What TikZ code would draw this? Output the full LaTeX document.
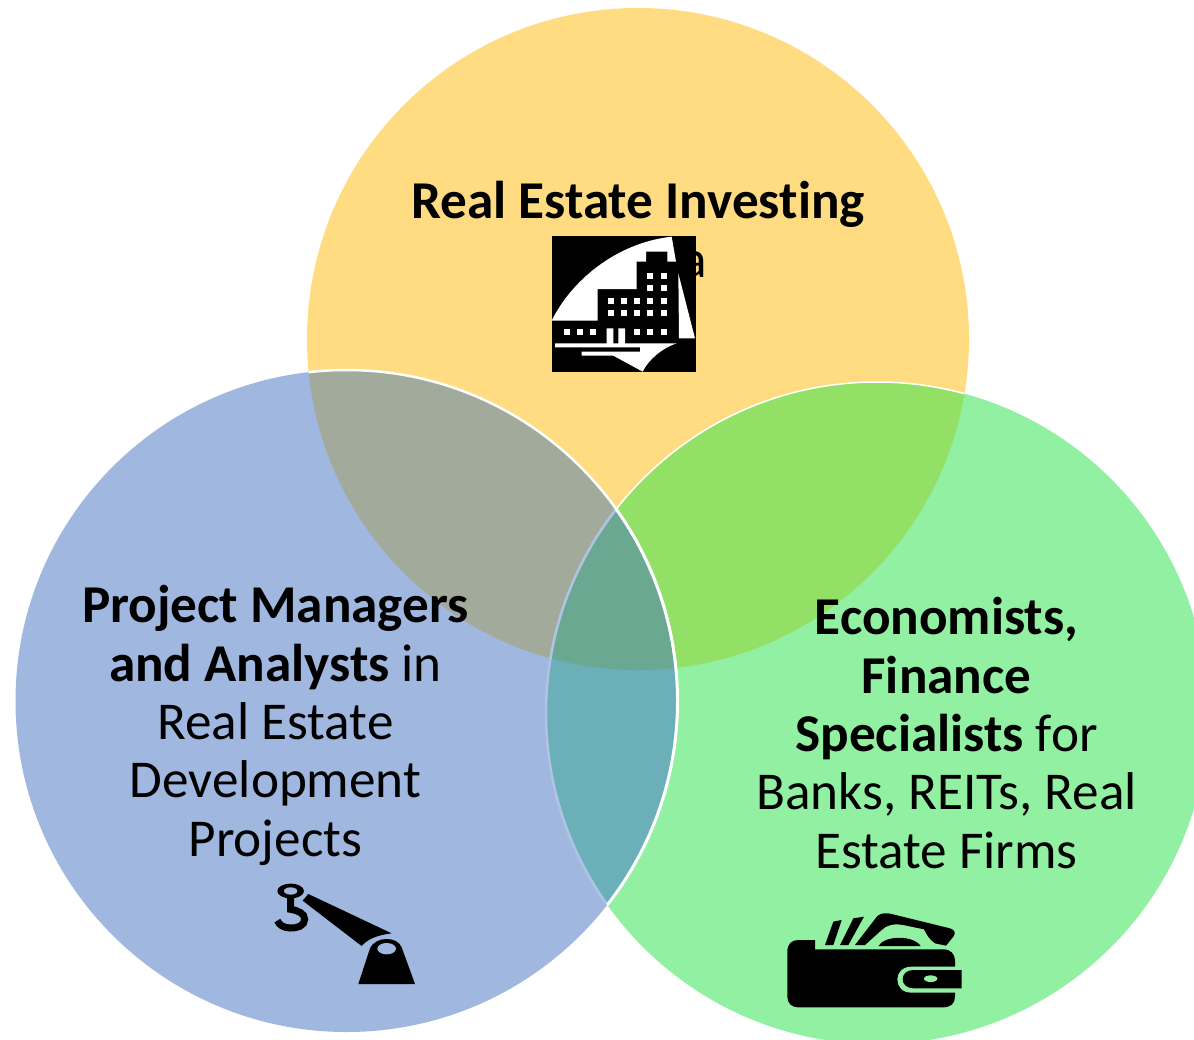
\documentclass[tikz,border=0pt]{standalone}
\usepackage{fontspec}
\setmainfont[Ligatures=NoCommon]{Carlito}
\definecolor{cyellow}{HTML}{FFDC82}
\definecolor{cblue}{HTML}{A0B7E0}
\definecolor{cgreen}{HTML}{92F0A2}
\definecolor{cyb}{HTML}{A2AB9B}
\definecolor{cyg}{HTML}{92E066}
\definecolor{cbg}{HTML}{6BB0B8}
\definecolor{cybg}{HTML}{6AA891}
\definecolor{cedge}{HTML}{AFC4E4}
\tikzset{
  label text/.style={font=\fontsize{53.2}{58}\selectfont,anchor=base,inner sep=0pt,text=black},
  ink/.style={fill=black,draw=none},
  icon/.style={x=0.33333pt,y=-0.33333pt}
}
\def\cY{(638,339) circle[radius=331]}
\def\cB{(346.5,701) circle[radius=331]}
\def\cG{(877,713) circle[radius=331]}
\begin{document}
\begin{tikzpicture}[x=1pt,y=-1pt]
\useasboundingbox (0,0) rectangle (1194,1039);
\fill[white] (0,0) rectangle (1194,1039);
\begin{scope}
\clip (0,0) rectangle (1194,1039);
\fill[cyellow] \cY;
\fill[cgreen] \cG;
\fill[cblue] \cB;
\begin{scope}\clip \cY; \fill[cyb] \cB; \fill[cyg] \cG; \end{scope}
\begin{scope}\clip \cB; \fill[cbg] \cG; \end{scope}
\begin{scope}\clip \cY; \clip \cB; \fill[cybg] \cG; \end{scope}
% outlines
\begin{scope}\clip \cY; \draw[white,line width=1.5pt] \cG; \end{scope}
\begin{scope}\clip \cB; \draw[cedge,line width=2.5pt] \cG; \end{scope}
\begin{scope}\clip \cG; \draw[white,line width=3pt] \cB; \end{scope}
\begin{scope}\clip \cY; \draw[white,line width=2.5pt] \cB; \end{scope}
\end{scope}

% text
\node[label text] (t1) at (638,218) {\textbf{Real Estate Investing}};
\node[label text] (hidden) at (694,277) {a};
\node[label text] (p1) at (275.5,622) {\textbf{Project Managers}};
\node[label text] (p2) at (275.5,681) {\textbf{and Analysts} in};
\node[label text] (p3) at (275.5,739) {Real Estate};
\node[label text] (p4) at (275.5,797) {Development};
\node[label text] (p5) at (275.5,856) {Projects};
\node[label text] (e1) at (946.5,634) {\textbf{Economists,}};
\node[label text] (e2) at (946.5,693) {\textbf{Finance}};
\node[label text] (e3) at (946.5,751) {\textbf{Specialists} for};
\node[label text] (e4) at (946.5,809) {Banks, REITs, Real};
\node[label text] (e5) at (946.5,868) {Estate Firms};

% building icon
\begin{scope}[shift={(530,220)},icon]
\fill[black] (65,48) rectangle (497,457);
\fill[white] (65,302) .. controls (120,190) and (250,70) .. (425,50)
  -- (438,125) -- (412,125) -- (412,95) -- (348,95) -- (348,125) -- (320,125)
  -- (320,207) -- (203,207) -- (203,302) -- cycle;
\fill[white] (445,160) -- (495,355) -- (447,355) -- cycle;
\fill[white] (75,370) -- (230,370) -- (230,325) -- (250,325) -- (250,370) -- (265,370)
  -- (265,325) -- (285,325) -- (285,370) -- (440,370)
  .. controls (395,385) and (355,420) .. (338,455) -- (250,407) -- (155,407) -- (155,395)
  -- (330,395) -- (330,382) -- (75,382) -- cycle;
\foreach \px/\py in {361/169,402/169,361/205,402/205,
  243/244,282/244,322/244,361/244,402/244,
  243/278,282/278,322/278,361/278,402/278,
  112/336,151/336,190/336,320/336,361/336,402/336}
  \fill[white] (\px-9,\py-9) rectangle (\px+9,\py+9);
\end{scope}

% crane icon
\begin{scope}[shift={(260,870)},icon]
\fill[ink] (145,72) -- (395,190) .. controls (355,195) and (325,205) .. (305,228) -- (128,92) -- cycle;
\fill[ink] (295,342) -- (330,235) .. controls (340,215) and (360,207) .. (380,207)
  .. controls (400,207) and (418,215) .. (425,232) -- (465,342) -- cycle;
\fill[cblue] (380,236) ellipse[x radius=28,y radius=17];
\fill[ink] (92,63) ellipse[x radius=40,y radius=22];
\fill[cblue] (92,63) ellipse[x radius=20,y radius=11];
\draw[black,line width=7pt] (92,80) -- (92,118) .. controls (115,122) and (134,130) .. (134,148)
  .. controls (134,168) and (110,175) .. (90,174) .. controls (70,173) and (58,165) .. (52,152);
\end{scope}

% wallet icon
\begin{scope}[shift={(770,900)},icon]
\fill[ink] (52,155) .. controls (52,132) and (65,120) .. (85,120) -- (135,120) -- (135,148)
  -- (520,148) .. controls (542,148) and (555,162) .. (555,182) -- (555,290)
  .. controls (555,310) and (542,322) .. (520,322) -- (85,322)
  .. controls (65,322) and (52,310) .. (52,290) -- cycle;
\fill[cgreen] (560,200) -- (425,200) .. controls (395,200) and (382,220) .. (382,238)
  .. controls (382,258) and (395,278) .. (425,278) -- (560,278) -- cycle;
\fill[ink] (575,210) -- (575,265) -- (430,265) .. controls (410,265) and (398,252) .. (398,238)
  .. controls (398,222) and (410,210) .. (430,210) -- cycle;
\fill[cgreen] (482,236) ellipse[x radius=20,y radius=10];
\fill[ink] (165,135) -- (190,65) -- (215,60) -- (190,135) -- cycle;
\fill[ink] (210,135) -- (250,55) -- (282,50) -- (235,135) -- cycle;
\fill[ink] (255,135) -- (322,48) .. controls (335,38) and (350,38) .. (365,42) -- (540,85)
  .. controls (555,90) and (558,100) .. (550,110) -- (528,137) -- (495,130)
  .. controls (480,120) and (470,105) .. (462,88) -- (400,75) .. controls (370,70) and (350,75) .. (335,90) -- (285,135) -- cycle;
\fill[ink] (325,138) .. controls (345,105) and (430,105) .. (452,138) -- cycle;
\end{scope}
\end{tikzpicture}
\end{document}
